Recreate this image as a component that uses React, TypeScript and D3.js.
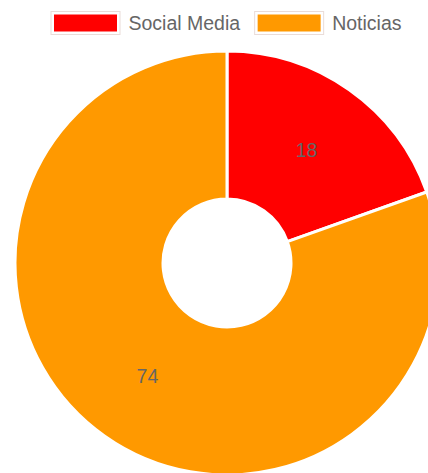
import React from 'react';
import { select, pie, arc, PieArcDatum } from 'd3';

const labels = ['Social Media', 'Noticias'];
const values = [18, 74];
const colors = ['#ff0000', '#ff9900'];

const dims = {
    width: 428,
    height: 473,
    cx: 227,
    cy: 263,
    outer: 212,
    inner: 64,
    legendY: 13,
    boxW: 66,
    boxH: 20,
    fontSize: 19.5,
};

const App: React.FC = () => {
    const ref = React.useRef<SVGSVGElement>(null);

    React.useEffect(() => {
        const svg = select(ref.current);
        svg.selectAll('*').remove();

        const pieGen = pie<number>().sort(null).value(d => d);
        const arcs = pieGen(values);
        const arcGen = arc<PieArcDatum<number>>()
            .innerRadius(dims.inner)
            .outerRadius(dims.outer);
        const labelArc = arc<PieArcDatum<number>>()
            .innerRadius((dims.inner + dims.outer) / 2)
            .outerRadius((dims.inner + dims.outer) / 2);

        const g = svg.append('g')
            .attr('transform', `translate(${dims.cx}, ${dims.cy})`);

        g.selectAll('path').data(arcs).enter().append('path')
            .attr('d', arcGen)
            .attr('fill', (d, i) => colors[i])
            .attr('stroke', '#fff')
            .attr('stroke-width', 3)
            .attr('stroke-linejoin', 'round');

        g.selectAll('text').data(arcs).enter().append('text')
            .attr('transform', d => `translate(${labelArc.centroid(d)})`)
            .attr('text-anchor', 'middle')
            .attr('dominant-baseline', 'central')
            .style('font-family', '"Liberation Sans", Arial, sans-serif')
            .style('font-size', `${dims.fontSize}px`)
            .style('fill', '#666')
            .text(d => String(d.data));

        // legend, centred over the doughnut
        const legend = svg.append('g');
        const items = legend.selectAll('g').data(labels).enter().append('g');
        items.append('rect')
            .attr('width', dims.boxW)
            .attr('height', dims.boxH)
            .attr('fill', (d, i) => colors[i])
            .attr('stroke', '#fff')
            .attr('stroke-width', 3);
        items.append('rect')
            .attr('x', -1.5)
            .attr('y', -1.5)
            .attr('width', dims.boxW + 3)
            .attr('height', dims.boxH + 3)
            .attr('fill', 'none')
            .attr('stroke', '#eadcd8')
            .attr('stroke-width', 1);
        const texts = items.append('text')
            .attr('x', dims.boxW + 10)
            .attr('y', dims.boxH / 2)
            .attr('dominant-baseline', 'central')
            .style('font-family', '"Liberation Sans", Arial, sans-serif')
            .style('font-size', `${dims.fontSize}px`)
            .style('fill', '#666')
            .text(d => d);

        const widths: number[] = [];
        texts.each(function () {
            widths.push(dims.boxW + 10 + (this as SVGTextElement).getComputedTextLength());
        });
        const gap = 16;
        const total = widths.reduce((a, b) => a + b, 0) + gap * (widths.length - 1);
        let x = dims.cx - total / 2;
        items.each(function (d, i) {
            select(this).attr('transform', `translate(${x}, ${dims.legendY})`);
            x += widths[i] + gap;
        });
    }, []);

    return (
        <svg ref={ref} width={dims.width} height={dims.height}
            style={{ position: 'absolute', left: 0, top: 0, background: '#fff' }} />
    );
};

export default App;
